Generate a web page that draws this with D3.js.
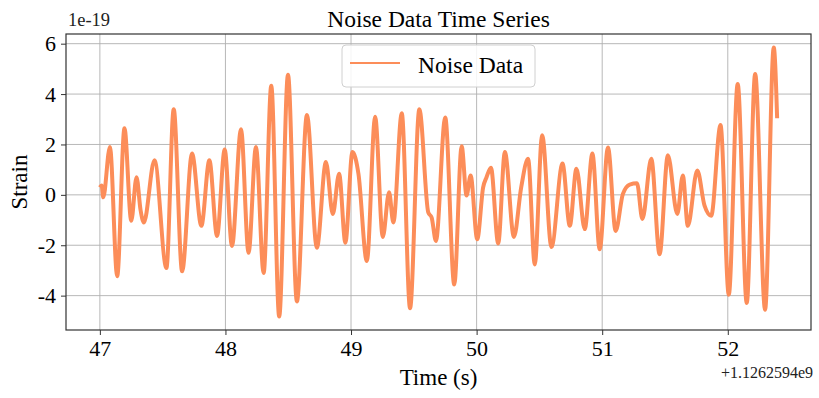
<!DOCTYPE html>
<html>
<head>
<meta charset="utf-8">
<script src="https://cdn.jsdelivr.net/npm/d3@7"></script>
<style>
  body { margin: 0; background: #fff; }
  svg { display: block; font-family: "Liberation Serif", "DejaVu Serif", serif; }
</style>
</head>
<body>
<svg id="chart" width="819" height="398"></svg>
<script>
const times = [
  47.000, 47.014, 47.027, 47.080, 47.138, 47.196, 47.250, 47.292, 47.324, 47.350,
  47.435, 47.530, 47.588, 47.655, 47.734, 47.808, 47.872, 47.933, 47.994, 48.052,
  48.124, 48.184, 48.243, 48.304, 48.365, 48.428, 48.498, 48.569, 48.649, 48.728,
  48.800, 48.855, 48.905, 48.955, 49.011, 49.059, 49.126, 49.192, 49.253, 49.303,
  49.337, 49.404, 49.470, 49.544, 49.615, 49.642, 49.676, 49.750, 49.822, 49.881,
  49.920, 49.952, 50.005, 50.052, 50.079, 50.114, 50.172, 50.225, 50.297, 50.355,
  50.410, 50.463, 50.522, 50.596, 50.684, 50.742, 50.795, 50.861, 50.922, 50.980,
  51.046, 51.107, 51.165, 51.219, 51.277, 51.320, 51.391, 51.457, 51.523, 51.598,
  51.642, 51.682, 51.757, 51.815, 51.868, 51.942, 52.008, 52.079, 52.151, 52.218,
  52.297, 52.366, 52.393
];
const strain = [
  0.30, 0.37, -0.10, 1.90, -3.23, 2.64, -1.03, 0.70, -0.60, -1.10,
  1.37, -2.90, 3.40, -3.03, 1.64, -1.23, 1.37, -1.63, 1.80, -2.03,
  2.60, -2.30, 1.90, -3.10, 4.33, -4.83, 4.77, -4.23, 3.17, -2.10,
  1.30, -0.76, 0.84, -1.90, 1.70, 0.84, -2.63, 3.10, -1.67, 0.10,
  -1.10, 3.24, -4.50, 3.40, -0.70, -0.90, -1.83, 3.07, -3.56, 1.93,
  -0.03, 0.77, -1.76, 0.30, 0.70, 1.08, -1.93, 1.70, -1.67, 0.30,
  1.43, -2.76, 2.37, -2.07, 1.24, -1.23, 1.04, -1.36, 1.64, -2.16,
  1.88, -1.43, 0.04, 0.41, 0.46, -0.96, 1.43, -2.36, 1.57, -0.76,
  0.77, -1.23, 0.97, -0.43, -0.83, 2.77, -3.96, 4.40, -4.29, 4.80,
  -4.56, 5.85, 3.04
];
const xTicks = [47, 48, 49, 50, 51, 52];
const yTicks = [-4, -2, 0, 2, 4, 6];

const svg = d3.select("#chart");
const width = 819, height = 398;
const margin = { top: 34, right: 8, bottom: 68, left: 66 };
const color = "#fc8d59";

const data = times.map((t, i) => ({ t, v: strain[i] }));

// matplotlib style 5% padding
const pad = (ext) => { const r = ext[1] - ext[0]; return [ext[0] - r * 0.05, ext[1] + r * 0.05]; };

const x = d3.scaleLinear()
  .domain(pad(d3.extent(times)))
  .range([margin.left, width - margin.right]);

const y = d3.scaleLinear()
  .domain(pad(d3.extent(strain)))
  .range([height - margin.bottom, margin.top]);

// grid
const grid = svg.append("g").attr("stroke", "#b0b0b0").attr("stroke-width", 0.9);
grid.selectAll(".gx").data(xTicks).join("line")
  .attr("x1", d => x(d)).attr("x2", d => x(d))
  .attr("y1", margin.top).attr("y2", height - margin.bottom);
grid.selectAll(".gy").data(yTicks).join("line")
  .attr("x1", margin.left).attr("x2", width - margin.right)
  .attr("y1", d => y(d)).attr("y2", d => y(d));

// the series
const line = d3.line()
  .x(d => x(d.t))
  .y(d => y(d.v))
  .curve(d3.curveMonotoneX);

svg.append("path")
  .datum(data)
  .attr("fill", "none")
  .attr("stroke", color)
  .attr("stroke-width", 4)
  .attr("stroke-linejoin", "round")
  .attr("d", line);

// axes
const xAxis = (g) => g.attr("transform", `translate(0,${height - margin.bottom})`)
  .call(d3.axisBottom(x).tickValues(xTicks).tickSize(5).tickPadding(5).tickFormat(d3.format("d")))
  .call(g => g.select(".domain").remove());
const yAxis = (g) => g.attr("transform", `translate(${margin.left},0)`)
  .call(d3.axisLeft(y).tickValues(yTicks).tickSize(5).tickPadding(5).tickFormat(d => String(d)))
  .call(g => g.select(".domain").remove());

svg.append("g").call(xAxis);
svg.append("g").call(yAxis);
svg.selectAll(".tick text")
  .attr("font-family", "Liberation Serif, serif")
  .attr("font-size", 22)
  .attr("fill", "#000");
svg.selectAll(".tick line").attr("stroke", "#333").attr("stroke-width", 1);

// frame
svg.append("rect")
  .attr("x", margin.left).attr("y", margin.top)
  .attr("width", width - margin.left - margin.right)
  .attr("height", height - margin.top - margin.bottom)
  .attr("fill", "none")
  .attr("stroke", "#333")
  .attr("stroke-width", 1.2);

// texts
svg.append("text")
  .attr("x", (margin.left + width - margin.right) / 2).attr("y", 27)
  .attr("text-anchor", "middle").attr("font-size", 23.5)
  .text("Noise Data Time Series");

svg.append("text")
  .attr("x", 68).attr("y", 26)
  .attr("font-size", 18.5).attr("fill", "#222")
  .text("1e-19");

svg.append("text")
  .attr("x", 813).attr("y", 378)
  .attr("text-anchor", "end").attr("font-size", 16).attr("fill", "#222")
  .text("+1.1262594e9");

svg.append("text")
  .attr("x", (margin.left + width - margin.right) / 2).attr("y", 385)
  .attr("text-anchor", "middle").attr("font-size", 23)
  .text("Time (s)");

svg.append("text")
  .attr("transform", `translate(27,${(margin.top + height - margin.bottom) / 2}) rotate(-90)`)
  .attr("text-anchor", "middle").attr("font-size", 23)
  .text("Strain");

// legend
const lg = svg.append("g").attr("transform", "translate(342,45)");
lg.append("rect")
  .attr("width", 193).attr("height", 42).attr("rx", 4)
  .attr("fill", "#fff").attr("fill-opacity", 0.85)
  .attr("stroke", "#d0d0d0").attr("stroke-width", 1);
lg.append("line")
  .attr("x1", 8).attr("x2", 58).attr("y1", 18).attr("y2", 18)
  .attr("stroke", color).attr("stroke-width", 2);
lg.append("text")
  .attr("x", 76).attr("y", 28).attr("font-size", 23.5)
  .text("Noise Data");
</script>
</body>
</html>
